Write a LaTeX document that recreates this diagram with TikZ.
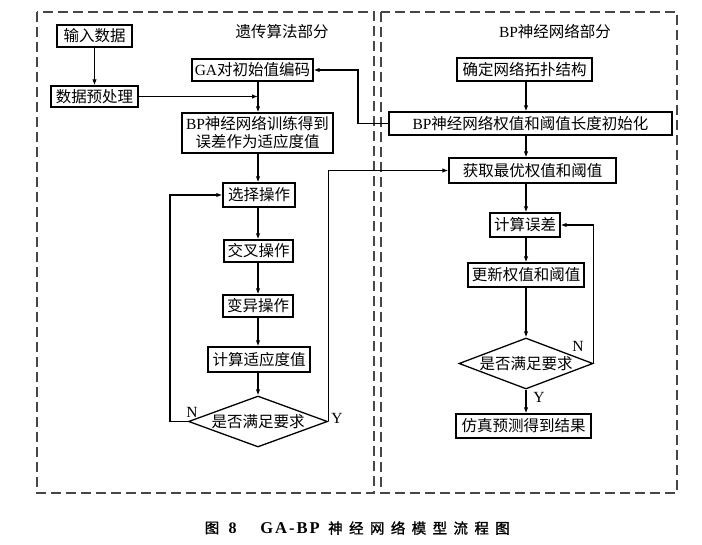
\documentclass[tikz,border=0pt]{standalone}
\usepackage{fontspec}
\setmainfont{Liberation Serif}
\newfontfamily\cjk{Noto Sans CJK SC}
\newfontfamily\cjkcap[LetterSpace=44,FakeBold=1.2]{Noto Sans CJK SC}
\usetikzlibrary{shapes.geometric,arrows.meta}
\newcommand\myfs{\fontsize{15.5}{18}\selectfont}
\newcommand\zh[1]{{\cjk #1}}
\begin{document}
\begin{tikzpicture}[x=1pt,y=-1pt,
  box/.style={draw, fill=white, line width=1.3pt, inner sep=0pt, align=center, font=\myfs},
  dia/.style={draw, diamond, fill=white, line width=1.3pt, inner sep=0pt, aspect=2.7, font=\myfs},
  arr/.style={line width=1.3pt, -{Latex[length=6pt,width=4.5pt]}},
  part/.style={draw=gray!55!black, dash pattern=on 10pt off 5pt, line width=1.6pt},
  lbl/.style={font=\myfs, inner sep=0pt}]
\useasboundingbox (0,0) rectangle (702,545);
% part frames
\draw[part] (37,12) rectangle (374,493);
\draw[part] (381,12) rectangle (677,493);
\node[lbl] (t1) at (282,32) {\zh{遗传算法部分}};
\node[lbl] (t2) at (555,32) {BP\zh{神经网络部分}};
% columns
\coordinate (cl) at (258,0);
\coordinate (cr) at (526,0);
\coordinate (lx) at (170,0);
\coordinate (bx) at (358,0);
% left nodes
\node[box, minimum width=75, minimum height=22] (in1) at (94.5,36) {\zh{输入数据}};
\node[box, minimum width=87, minimum height=21] (pre) at (94.5,96.5) {\zh{数据预处理}};
\node[box, minimum width=121, minimum height=22] (ga) at (252.5,70) {GA\zh{对初始值编码}};
\node[box, minimum width=151, minimum height=40] (train) at (257.5,133) {BP\zh{神经网络训练得到}\\\zh{误差作为适应度值}};
\node[box, minimum width=72, minimum height=24] (sel) at (259,195) {\zh{选择操作}};
\node[box, minimum width=69, minimum height=22] (cross) at (258.5,251) {\zh{交叉操作}};
\node[box, minimum width=70, minimum height=22] (mut) at (258,306) {\zh{变异操作}};
\node[box, minimum width=102, minimum height=25] (fit) at (259,359.5) {\zh{计算适应度值}};
\node[dia, minimum width=139, minimum height=51] (d1) at (258,421.5) {\zh{是否满足要求}};
\node[lbl] (n1) at (192,412) {N};
\node[lbl] (y1) at (337,418) {Y};
% right nodes
\node[box, minimum width=135, minimum height=23] (topo) at (524.5,69.5) {\zh{确定网络拓扑结构}};
\node[box, minimum width=283, minimum height=23] (init) at (530.5,123.5) {BP\zh{神经网络权值和阈值长度初始化}};
\node[box, minimum width=167, minimum height=25] (get) at (532.5,170.5) {\zh{获取最优权值和阈值}};
\node[box, minimum width=70, minimum height=24] (calc) at (525,225) {\zh{计算误差}};
\node[box, minimum width=116, minimum height=24] (upd) at (526,275) {\zh{更新权值和阈值}};
\node[dia, minimum width=134, minimum height=51] (d2) at (526,363.5) {\zh{是否满足要求}};
\node[box, minimum width=135, minimum height=24] (sim) at (523.5,426) {\zh{仿真预测得到结果}};
\node[lbl] (n2) at (578,346) {N};
\node[lbl] (y2) at (539,397) {Y};
% caption
\node[inner sep=0pt, font=\fontsize{14.5}{16}\selectfont] (c1) at (212,528) {{\cjkcap 图}};
\node[inner sep=0pt, font=\fontsize{16}{18}\selectfont\bfseries] (c2) at (232.5,528) {8};
\node[inner sep=0pt, font=\fontsize{16.5}{18}\selectfont\bfseries] (c3) at (290,528) {\addfontfeature{LetterSpace=12}GA-BP};
\node[inner sep=0pt, font=\fontsize{14.5}{16}\selectfont] (c4) at (419,528) {{\cjkcap 神经网络模型流程图}};
% left edges
\draw[arr] (in1) -- (pre);
\draw[arr] (ga.south -| cl) -- (train.north -| cl);
\draw[arr] (pre.east) -- (pre.east -| cl);
\draw[arr] (train.south -| cl) -- (sel.north -| cl);
\draw[arr] (sel.south -| cl) -- (cross.north -| cl);
\draw[arr] (cross.south -| cl) -- (mut.north -| cl);
\draw[arr] (mut.south -| cl) -- (fit.north -| cl);
\draw[arr] (fit.south -| cl) -- (d1.north);
\draw[arr] (d1.west) -- (d1.west -| lx) |- (sel.west);
\draw[arr] (d1.east) |- (get.west);
\draw[arr] (init.west) -- (init.west -| bx) |- (ga.east);
% right edges
\draw[arr] (topo.south -| cr) -- (init.north -| cr);
\draw[arr] (init.south -| cr) -- (get.north -| cr);
\draw[arr] (get.south -| cr) -- (calc.north -| cr);
\draw[arr] (calc.south -| cr) -- (upd.north -| cr);
\draw[arr] (upd.south -| cr) -- (d2.north);
\draw[arr] (d2.south) -- (sim.north -| cr);
\draw[arr] (d2.east) |- (calc.east);
\end{tikzpicture}
\end{document}
